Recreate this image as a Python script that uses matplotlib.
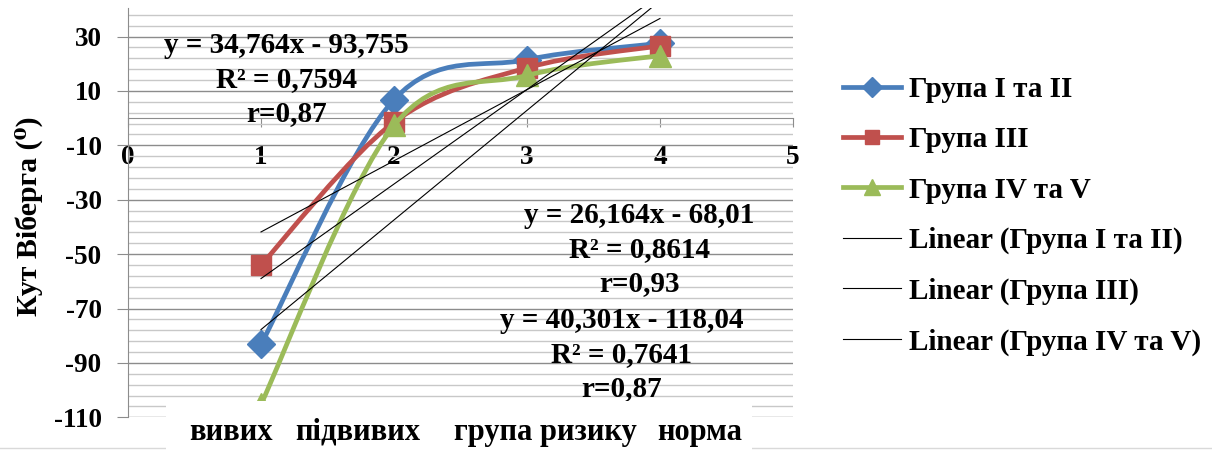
import numpy as np
import matplotlib
matplotlib.use("Agg")
import matplotlib.pyplot as plt
from matplotlib.path import Path
from matplotlib.patches import PathPatch, Rectangle
from matplotlib.lines import Line2D
from matplotlib.transforms import blended_transform_factory

plt.rcParams['font.family'] = ['Liberation Serif', 'DejaVu Serif']
plt.rcParams['font.weight'] = 'bold'
plt.rcParams['axes.unicode_minus'] = False

# group data: x position of each diagnostic category
x_pos = [1, 2, 3, 4]
group_12 = [-83.2, 6.8, 21.5, 27.5]
group_3 = [-54.0, -1.5, 18.5, 26.6]
group_45 = [-105.2, -2.7, 15.7, 23.0]

categories = ['вивих', 'підвивих', 'група ризику', 'норма']
category_x = [0.775, 1.73, 3.14, 4.30]

series_names = ['Група I та II', 'Група III', 'Група IV та V']
colors = ['#4a7ebb', '#c0504d', '#9bbb59']
markers = ['D', 's', '^']
marker_sizes = [14, 15, 16]

# linear trends (slope, intercept) and their fit quality
slopes = [34.764, 26.164, 40.301]
intercepts = [-93.755, -68.01, -118.04]
r2_values = ['0,7594', '0,8614', '0,7641']
r_values = ['0,87', '0,93', '0,87']
eq_pos = [(1.19, 14.2), (3.845, -48.3), (3.71, -86.9)]


def smooth_path(xs, ys):
    # bezier curve through the points, same idea as the spreadsheet "smoothed line"
    pts = np.column_stack([xs, ys]).astype(float)
    n = len(pts)
    verts = [pts[0]]
    codes = [Path.MOVETO]
    for i in range(n - 1):
        p_prev = pts[max(i - 1, 0)]
        p0 = pts[i]
        p1 = pts[i + 1]
        p_next = pts[min(i + 2, n - 1)]
        verts += [p0 + (p1 - p_prev) / 6, p1 - (p_next - p0) / 6, p1]
        codes += [Path.CURVE4] * 3
    return Path(verts, codes)


fig = plt.figure(figsize=(12.12, 4.5), dpi=100)
ax = fig.add_axes([128 / 1212, 32.7 / 450, 665 / 1212, 409.3 / 450])

ax.set_xlim(0, 5)
ax.set_ylim(-110, 40.5)

grid_major = '#8c8c8c'
grid_minor = '#c8c8c8'
ax.set_yticks(np.arange(-110, 31, 20))
ax.set_yticks(np.arange(-110, 39, 4), minor=True)
ax.set_xticks(np.arange(0, 6))
ax.grid(which='minor', axis='y', color=grid_minor, lw=1.0)
ax.grid(which='major', axis='y', color=grid_major, lw=1.0)
ax.set_axisbelow(True)

for side in ['top', 'right']:
    ax.spines[side].set_visible(False)
ax.spines['left'].set_color(grid_major)
ax.spines['bottom'].set_color(grid_major)
ax.spines['bottom'].set_position(('data', 0))

ax.tick_params(axis='y', which='major', direction='out', length=8, color=grid_major,
               labelsize=19.5, pad=11)
ax.tick_params(axis='y', which='minor', length=0)
ax.tick_params(axis='x', direction='out', length=6.5, color=grid_major,
               labelsize=19.5, pad=13)

handles = []
z = 3
for ys, name, c, m, ms in zip([group_12, group_3, group_45], series_names, colors, markers, marker_sizes):
    ax.add_patch(PathPatch(smooth_path(x_pos, ys), fc='none', ec=c, lw=3.4,
                           capstyle='round', joinstyle='round', zorder=z))
    ax.plot(x_pos, ys, linestyle='none', marker=m, markersize=ms, color=c,
            markeredgecolor=c, zorder=z + 0.5)
    handles.append(Line2D([], [], color=c, lw=3.4, marker=m, markersize=ms * 0.7,
                          label=name))
    z += 1

trend_x = np.array([1, 4])
for k, name in zip(range(3), series_names):
    ax.plot(trend_x, slopes[k] * trend_x + intercepts[k], color='black', lw=0.8, zorder=7)
    handles.append(Line2D([], [], color='black', lw=0.8, label='Linear (' + name + ')'))
    eq = 'y = {}x - {}\nR² = {}\nr={}'.format(
        str(slopes[k]).replace('.', ','), str(abs(intercepts[k])).replace('.', ','),
        r2_values[k], r_values[k])
    ax.text(eq_pos[k][0], eq_pos[k][1], eq, ha='center', va='center',
            multialignment='center', fontsize=21, linespacing=1.32, zorder=8)

# white strip with category names under the plot
ax.plot([-0.3, 1.65], [-0.075, -0.075], transform=ax.transAxes, clip_on=False,
        color='#d9d9d9', lw=1, zorder=9)
ax.add_patch(Rectangle((0.057, -0.2), 0.881, 0.24, transform=ax.transAxes,
                       fc='white', ec='none', clip_on=False, zorder=10))
trans = blended_transform_factory(ax.transData, ax.transAxes)
for cx, label in zip(category_x, categories):
    ax.text(cx, -0.036, label, transform=trans, ha='center', va='center',
            fontsize=22, zorder=11)

ax.set_ylabel('Кут Віберга (⁰)', fontsize=21.5, fontweight='bold')
ax.yaxis.set_label_coords(-0.128, 0.492)

fig.legend(handles=handles, loc='upper left', bbox_to_anchor=(843 / 1212, 1 - 76 / 450),
           frameon=False, fontsize=21, handlelength=2.0, handletextpad=0.25,
           labelspacing=0.8, borderpad=0, borderaxespad=0)

fig.savefig('out.png', dpi=100)
